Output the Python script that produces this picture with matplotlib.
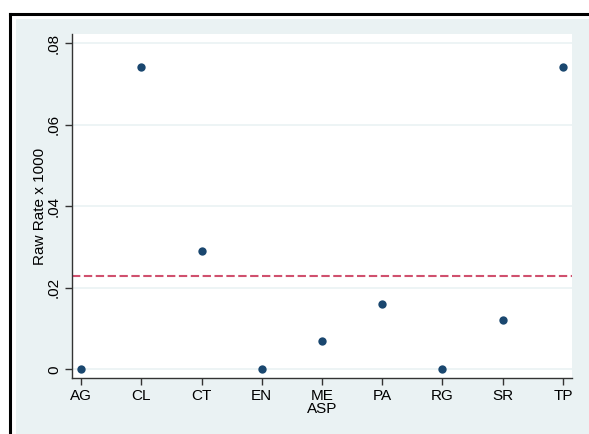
import numpy as np
import matplotlib
matplotlib.use('Agg')
import matplotlib.pyplot as plt
from matplotlib.patches import Rectangle
from matplotlib.lines import Line2D

# data
categories = ['AG', 'CL', 'CT', 'EN', 'ME', 'PA', 'RG', 'SR', 'TP']
raw_rate = [0.0, 0.074, 0.029, 0.0, 0.007, 0.016, 0.0, 0.012, 0.074]
mean_rate = 0.023
y_ticks = [0, 0.02, 0.04, 0.06, 0.08]
y_tick_labels = ['0', '.02', '.04', '.06', '.08']

W, H = 589, 434
fig = plt.figure(figsize=(W / 100, H / 100), dpi=100)
fig.patch.set_facecolor('white')

# light bluish-gray graph region and the black frame lines
fig.patches.append(Rectangle((16 / W, 0), 1 - 16 / W, 1 - 19 / H,
                             transform=fig.transFigure, facecolor='#eaf2f3',
                             edgecolor='none', zorder=-5))
fig.lines.append(Line2D([10 / W, 1], [1 - 14 / H, 1 - 14 / H], transform=fig.transFigure,
                        color='black', linewidth=2.2, zorder=-4))
fig.lines.append(Line2D([10 / W, 10 / W], [0, 1 - 14 / H], transform=fig.transFigure,
                        color='black', linewidth=2.2, zorder=-4))

ax = fig.add_axes([72 / W, 1 - 378 / H, (572 - 72) / W, (378 - 34) / H])
ax.set_facecolor('white')

x = np.arange(len(categories))
ax.scatter(x, raw_rate, s=36, color='#1a476f', zorder=3, linewidths=0)
ax.axhline(mean_rate, color='#d0506e', linewidth=1.5, dashes=(4, 1.7), zorder=2)

ax.set_xlim(-0.15, len(categories) - 1 + 0.15)
ax.set_ylim(-0.0021, 0.0822)
ax.set_xticks(x)
ax.set_xticklabels(categories, fontsize=11, family='Liberation Sans')
ax.set_yticks(y_ticks)
ax.set_yticklabels(y_tick_labels, fontsize=11, family='Liberation Sans',
                   rotation=90, va='center')
ax.yaxis.grid(True, color='#eaf2f3', linewidth=1.2)
ax.set_axisbelow(True)

for side in ['top', 'right']:
    ax.spines[side].set_visible(False)
for side in ['left', 'bottom']:
    ax.spines[side].set_color('#333333')
    ax.spines[side].set_linewidth(1.0)
ax.tick_params(axis='both', direction='out', length=5, width=1.0, color='#333333', pad=3)

ax.set_xlabel('ASP', fontsize=11, family='Liberation Sans', labelpad=-1)
ax.set_ylabel('Raw Rate x 1000', fontsize=11, family='Liberation Sans', labelpad=0)

fig.savefig('out.png', dpi=100)
